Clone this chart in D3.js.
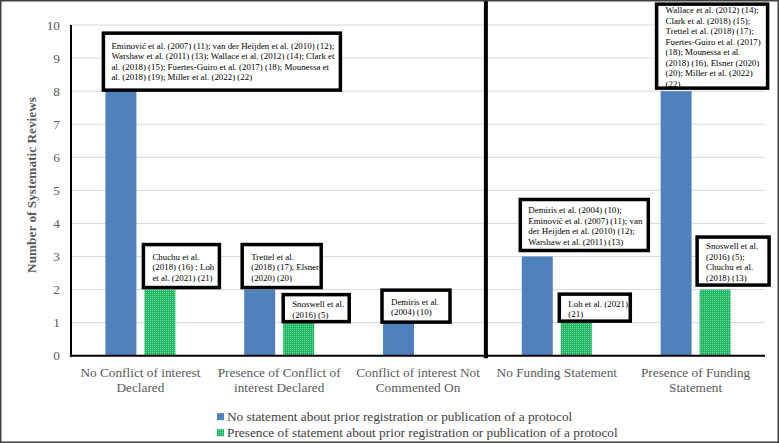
<!DOCTYPE html>
<html>
<head>
<meta charset="utf-8">
<script src="https://cdn.jsdelivr.net/npm/d3@7"></script>
<style>
  html, body { margin: 0; padding: 0; background: #fff; }
  svg { display: block; }
  text { font-family: "Liberation Serif", "Times New Roman", serif; }
</style>
</head>
<body>
<svg id="chart" width="779" height="443"></svg>
<script>
// ---- data ----
const categories = [
  "No Conflict of interest Declared",
  "Presence of Conflict of interest Declared",
  "Conflict of interest Not Commented On",
  "No Funding Statement",
  "Presence of Funding Statement"
];
const categoryLabelLines = [
  ["No Conflict of interest", "Declared"],
  ["Presence of Conflict of", "interest Declared"],
  ["Conflict of interest Not", "Commented On"],
  ["No Funding Statement"],
  ["Presence of Funding", "Statement"]
];
const seriesNames = [
  "No statement about prior registration or publication of a protocol",
  "Presence of statement about prior registration or publication of a protocol"
];
const noStatementValues = [8, 2, 1, 3, 8];
const presenceStatementValues = [2, 1, 0, 1, 2];
const yTicks = [0, 1, 2, 3, 4, 5, 6, 7, 8, 9, 10];

// annotation texts (lines as they wrap in the original)
const annotationTexts = [
  ["Eminović et al. (2007) (11); van der Heijden et al. (2010) (12);",
   "Warshaw et al. (2011) (13); Wallace et al. (2012) (14); Clark et",
   "al. (2018) (15); Fuertes-Guiro et al. (2017) (18); Mounessa et",
   "al. (2018) (19); Miller et al. (2022) (22)"],
  ["Chuchu et al.", "(2018) (16) ; Loh", "et al. (2021) (21)"],
  ["Trettel et al.", "(2018) (17), Elsner", "(2020) (20)"],
  ["Snoswell et al.", "(2016) (5)"],
  ["Demiris et al.", "(2004) (10)"],
  ["Demiris et al. (2004) (10);", "Eminović et al. (2007) (11); van", "der Heijden et al. (2010) (12);", "Warshaw et al. (2011) (13)"],
  ["Loh et al. (2021)", "(21)"],
  ["Wallace et al. (2012) (14);", "Clark et al. (2018) (15);", "Trettel et al. (2018) (17);", "Fuertes-Guiro et al. (2017)", "(18); Mounessa et al.", "(2018) (16), Elsner (2020)", "(20); Miller et al. (2022)", "(22)"],
  ["Snoswell et al.", "(2016) (5);", "Chuchu et al.", "(2018) (13)"]
];
// which bar each annotation sits on: [category index, series index]
const annotationTargets = [[0,0],[0,1],[1,0],[1,1],[2,0],[3,0],[3,1],[4,0],[4,1]];

// ---- layout (styles) ----
const annotationLayout = [
  {dx: -2, gap: 1,  w: 237, h: 57, pad: 8,  first: 12.7},
  {dx: -1, gap: 2,  w: 76,  h: 43, pad: 9,  first: 12.4},
  {dx: -2, gap: 2,  w: 79,  h: 43, pad: 9,  first: 12.4},
  {dx: 0,  gap: 1,  w: 66,  h: 27, pad: 9,  first: 9.5},
  {dx: -1, gap: 0.5,w: 68,  h: 32, pad: 9,  first: 11.7},
  {dx: -1.5,gap: 6, w: 128, h: 51, pad: 8,  first: 10.7},
  {dx: -1.5,gap: 1.5,w: 71, h: 27, pad: 9,  first: 9.7},
  {dx: -4, gap: 3,  w: 111, h: 84, pad: 9,  first: 6},
  {dx: -2.5,gap: 4.5,w: 72, h: 48, pad: 9,  first: 9.4}
];

const svg = d3.select("#chart");
const W = 779, H = 443;
const pL = 71, pR = 765, pT = 25, pB = 355.7;
const blue = "#4f81bd";

// pattern for green bars
const defs = svg.append("defs");
const pat = defs.append("pattern").attr("id", "greenPat")
  .attr("patternUnits", "userSpaceOnUse").attr("width", 2).attr("height", 2);
pat.append("rect").attr("width", 2).attr("height", 2).attr("fill", "#1fb763");
pat.append("rect").attr("x", 0).attr("y", 0).attr("width", 1).attr("height", 1).attr("fill", "#7ad9a3");

svg.append("rect").attr("x", 0).attr("y", 0).attr("width", W).attr("height", H).attr("fill", "#fff");

const x = d3.scaleBand().domain(categories).range([pL, pR]).paddingInner(0).paddingOuter(0);
const xInner = d3.scaleBand().domain([0, 1]).range([0, x.bandwidth()]).paddingInner(0.205).paddingOuter(0.882);
const y = d3.scaleLinear().domain([0, 10]).range([pB, pT]);

// gridlines
svg.append("g").selectAll("line").data(yTicks.filter(t => t > 0)).join("line")
  .attr("x1", pL).attr("x2", pR)
  .attr("y1", d => y(d)).attr("y2", d => y(d))
  .attr("stroke", "#d9d9d9").attr("stroke-width", 1);

// y axis labels
const yAxis = d3.axisLeft(y).tickValues(yTicks).tickSize(0).tickPadding(11).tickFormat(d3.format("d"));
const gy = svg.append("g").attr("transform", `translate(${pL},0)`).call(yAxis);
gy.select(".domain").remove();
gy.selectAll("text").attr("font-size", 13.3).attr("fill", "#595959");

// bars
const seriesData = [noStatementValues, presenceStatementValues];
const fills = [blue, "url(#greenPat)"];
seriesData.forEach((vals, si) => {
  svg.append("g").selectAll("rect").data(vals).join("rect")
    .attr("x", (d, i) => x(categories[i]) + xInner(si))
    .attr("width", xInner.bandwidth())
    .attr("y", d => y(d))
    .attr("height", d => y(0) - y(d))
    .attr("fill", fills[si]);
});

// axes lines
svg.append("line").attr("x1", pL).attr("x2", pL).attr("y1", pT).attr("y2", pB + 1)
  .attr("stroke", "#000").attr("stroke-width", 2);
svg.append("line").attr("x1", pL - 1).attr("x2", pR).attr("y1", pB).attr("y2", pB)
  .attr("stroke", "#000").attr("stroke-width", 2);

// divider between conflict & funding groups
const divX = x(categories[3]) - 1.5;
svg.append("line").attr("x1", divX).attr("x2", divX).attr("y1", 0).attr("y2", pB + 2.5)
  .attr("stroke", "#000").attr("stroke-width", 4);

// x category labels
const xl = svg.append("g");
categoryLabelLines.forEach((lines, i) => {
  const cx = x(categories[i]) + x.bandwidth() / 2;
  lines.forEach((ln, j) => {
    xl.append("text").attr("x", cx).attr("y", 377 + j * 15)
      .attr("text-anchor", "middle").attr("font-size", 13.3).attr("fill", "#595959").text(ln);
  });
});

// y axis title
svg.append("text").attr("transform", `translate(36,185) rotate(-90)`)
  .attr("text-anchor", "middle").attr("font-size", 13.3).attr("font-weight", "bold")
  .attr("fill", "#595959").text("Number of Systematic Reviews");

// annotations
const ann = svg.append("g");
annotationTexts.forEach((lines, k) => {
  const [ci, si] = annotationTargets[k];
  const L = annotationLayout[k];
  const val = seriesData[si][ci];
  const bx = x(categories[ci]) + xInner(si) + L.dx;
  const by = y(val) - L.gap - L.h;
  const cid = "clip" + k;
  defs.append("clipPath").attr("id", cid).append("rect")
    .attr("x", bx).attr("y", by).attr("width", L.w).attr("height", L.h);
  const g = ann.append("g");
  g.append("rect").attr("x", bx).attr("y", by).attr("width", L.w).attr("height", L.h).attr("fill", "#fff");
  const tg = g.append("g").attr("clip-path", `url(#${cid})`);
  lines.forEach((ln, j) => {
    tg.append("text").attr("x", bx + L.pad).attr("y", by + L.first + 3 + j * 10.5)
      .attr("font-size", 8.9).attr("fill", "#000").text(ln);
  });
  g.append("rect").attr("x", bx).attr("y", by).attr("width", L.w).attr("height", L.h)
    .attr("fill", "none").attr("stroke", "#000").attr("stroke-width", 3.5);
});

// legend
const lg = svg.append("g");
seriesNames.forEach((name, i) => {
  const ly = 416.7 + i * 16;
  lg.append("rect").attr("x", 217).attr("y", ly - 3.5).attr("width", 7).attr("height", 7).attr("fill", fills[i]);
  lg.append("text").attr("x", 227).attr("y", ly + 4.5).attr("font-size", 13.3).attr("fill", "#404040").text(name);
});

// outer border
svg.append("rect").attr("x", 0.75).attr("y", 0.75).attr("width", W - 1.5).attr("height", H - 1.5)
  .attr("fill", "none").attr("stroke", "#404040").attr("stroke-width", 1.5);
</script>
</body>
</html>
